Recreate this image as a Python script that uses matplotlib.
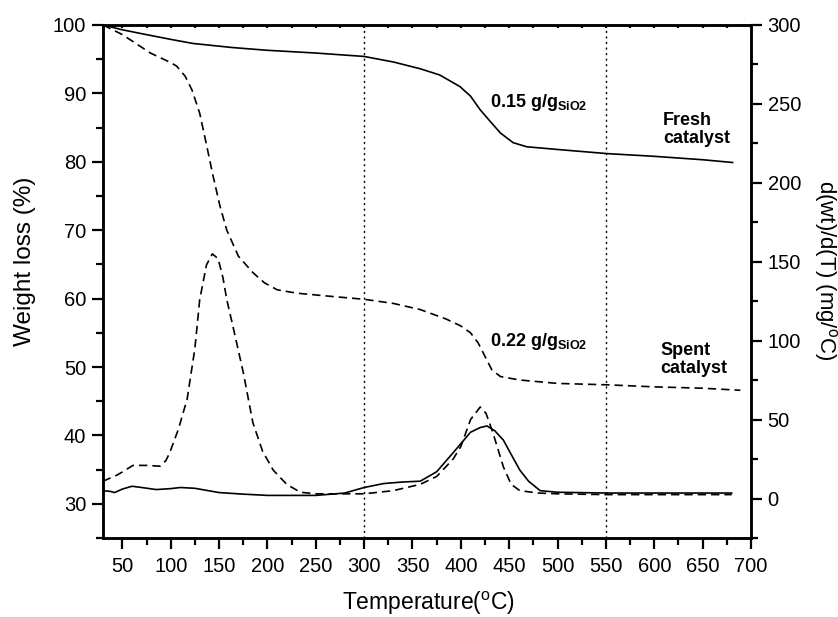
import matplotlib.pyplot as plt
from matplotlib.ticker import MultipleLocator

plt.rcParams.update({
    "font.family": ["Liberation Sans", "DejaVu Sans"],
    "mathtext.fontset": "custom",
    "mathtext.rm": "Liberation Sans",
    "mathtext.bf": "Liberation Sans:bold",
})

# TG curves (weight loss %, left axis)
t_fresh_tg = [30, 50, 71, 100, 123, 164, 200, 250, 300, 330, 358, 378, 399, 410, 420,
              431, 441, 454, 468, 500, 551, 600, 650, 681]
w_fresh_tg = [100, 99.3, 98.7, 97.9, 97.3, 96.7, 96.3, 95.9, 95.4, 94.6, 93.6, 92.7, 91.0,
              89.6, 87.6, 85.8, 84.2, 82.8, 82.2, 81.8, 81.2, 80.8, 80.3, 79.9]

t_spent_tg = [30, 50, 79, 100, 106, 115, 122, 130, 137, 144, 151, 158, 170, 185, 197, 210,
              230, 260, 300, 330, 358, 385, 400, 410, 418, 423, 432, 441, 461, 500, 551,
              600, 650, 689]
w_spent_tg = [100, 98.6, 95.9, 94.5, 94.0, 92.5, 90.5, 87.1, 82.5, 77.8, 73.5, 70.0, 66.2,
              63.8, 62.3, 61.3, 60.8, 60.4, 59.9, 59.3, 58.4, 57.0, 56.0, 55.0, 53.5, 52.1,
              49.6, 48.6, 48.1, 47.6, 47.4, 47.1, 46.9, 46.6]

# DTG curves (mg/oC, right axis)
t_fresh_dtg = [30, 38, 42, 50, 60, 70, 85, 100, 110, 125, 150, 175, 200, 250, 280, 300, 320,
               340, 358, 375, 392, 410, 420, 427, 435, 444, 452, 461, 470, 482, 500, 550,
               600, 680]
d_fresh_dtg = [5, 4.5, 3.8, 6, 7.8, 7, 5.7, 6.3, 7, 6.5, 3.8, 2.8, 2, 2, 3.5, 7, 9.5, 10.5,
               11, 17, 29, 42, 45, 46, 43, 37, 28, 18, 11, 5, 4, 3.5, 3.5, 3.5]

t_spent_dtg = [30, 45, 61, 75, 89, 95, 99, 108, 117, 125, 130, 137, 143, 149, 154, 158, 164,
               175, 185, 195, 206, 220, 234, 250, 300, 330, 358, 375, 392, 400, 410, 420,
               426, 433, 444, 452, 461, 480, 500, 550, 600, 680]
d_spent_dtg = [11, 15, 21, 21, 20.5, 24, 29, 44, 63, 95, 126, 148, 155, 152, 140, 126, 110,
               80, 48, 30, 18, 9, 4, 3, 3, 5, 9, 14, 25, 33, 50, 58, 54, 42, 20, 9, 5, 3.5,
               3, 2.5, 2.5, 2.5]

fig = plt.figure(figsize=(8.38, 6.17), dpi=100)
ax = fig.add_axes([0.1229, 0.128, 0.7733, 0.8315])
ax2 = ax.twinx()

dash = (0, (5, 3))
ax.plot(t_fresh_tg, w_fresh_tg, color="black", lw=1.2)
ax.plot(t_spent_tg, w_spent_tg, color="black", lw=1.2, linestyle=dash)
ax2.plot(t_fresh_dtg, d_fresh_dtg, color="black", lw=1.2)
ax2.plot(t_spent_dtg, d_spent_dtg, color="black", lw=1.2, linestyle=dash)

for xv in (300, 550):
    ax.axvline(xv, color="black", lw=1.0, linestyle=(0, (1.5, 2.5)))

ax.set_xlim(30, 700)
ax.set_ylim(25, 100)
ax2.set_ylim(-25, 300)

ax.xaxis.set_major_locator(MultipleLocator(50))
ax.xaxis.set_minor_locator(MultipleLocator(25))
ax.yaxis.set_major_locator(MultipleLocator(10))
ax.yaxis.set_minor_locator(MultipleLocator(5))
ax2.yaxis.set_major_locator(MultipleLocator(50))
ax2.yaxis.set_minor_locator(MultipleLocator(25))

for a in (ax, ax2):
    for s in a.spines.values():
        s.set_linewidth(1.8)
ax.tick_params(axis="both", which="major", direction="out", length=8, width=1.6,
               labelsize=14.5, pad=4)
ax.tick_params(axis="x", which="major", pad=6)
ax.tick_params(axis="both", which="minor", direction="out", length=5, width=1.6)
ax.tick_params(axis="x", which="both", top=True, labeltop=False)
for tk in ax.xaxis.get_major_ticks() + ax.xaxis.get_minor_ticks():
    tk.tick2line.set_marker(3)
    tk.tick2line.set_markersize(2)
ax2.tick_params(axis="y", which="major", direction="out", length=8, width=1.6,
                labelsize=14.5, pad=4)
ax2.tick_params(axis="y", which="minor", direction="out", length=5, width=1.6)

# axis titles placed in figure pixels of the original
fig.text(428 / 838, 1 - 603 / 617, "Temperature($^{\\mathrm{o}}$C)", fontsize=16.5,
         ha="center", va="center")
fig.text(25 / 838, 1 - 261 / 617, "Weight loss (%)", fontsize=17.5, rotation=90,
         ha="center", va="center")
fig.text(825 / 838, 1 - 270 / 617, "d(wt)/d(T) (mg/$^{\\mathrm{o}}$C)", fontsize=16,
         rotation=270, ha="center", va="center")

ann = dict(fontsize=13, fontweight="bold", ha="left", va="center", color="black")
ax.text(430, 88.6, "0.15 g/g$_{\\mathbf{SiO2}}$", **ann)
ax.text(609, 84.7, "Fresh\ncatalyst", linespacing=1.05, **ann)
ax.text(430, 53.7, "0.22 g/g$_{\\mathbf{SiO2}}$", **ann)
ax.text(606, 51.1, "Spent\ncatalyst", linespacing=1.05, **ann)

fig.savefig("out.png", dpi=100)
